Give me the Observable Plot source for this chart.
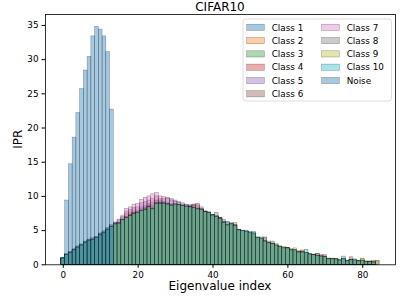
<!DOCTYPE html>
<html><head><meta charset="utf-8">
<script src="https://cdn.jsdelivr.net/npm/d3@7"></script>
<script src="https://cdn.jsdelivr.net/npm/@observablehq/plot@0.6"></script>
<style>body{margin:0;background:#fff} svg{font-family:"DejaVu Sans",sans-serif}</style>
</head><body><div id="chart"></div>
<script>
const title = "CIFAR10";
const xLabel = "Eigenvalue index";
const yLabel = "IPR";
const seriesNames = ["Class 1","Class 2","Class 3","Class 4","Class 5","Class 6","Class 7","Class 8","Class 9","Class 10","Noise"];
const colors = ["#1f77b4","#ff7f0e","#2ca02c","#d62728","#9467bd","#8c564b","#e377c2","#7f7f7f","#bcbd22","#17becf","#1f77b4"];
const xTicks = [0,20,40,60,80];
const yTicks = [0,5,10,15,20,25,30,35];

const class1 = [1.0,1.5,1.8,2.2,2.6,2.9,3.3,3.6,3.7,4.0, 4.4,4.7,5.2,5.6,6.0,6.2,6.6,7.0,7.3,7.6, 7.8,8.4,8.6,8.9,8.7,9.3,9.2,9.2,9.1,8.9, 8.9,8.8,8.7,8.6,8.6,8.5,8.3,8.1,7.8,7.7, 7.3,7.1,6.8,6.3,6.2,6.0,5.8,5.1,4.9,4.8, 4.6,4.7,4.0,3.9,3.5,3.2,3.0,2.8,2.6,2.4, 2.4,2.1,2.1,1.8,1.8,1.7,1.5,1.4,1.3,1.2, 1.1,0.8,0.8,0.8,0.6,0.9,0.5,0.7,0.6,0.5, 0.6,0.4,0.4,0.3,0.0];
const class2 = [0.9,1.4,1.7,2.1,2.5,2.8,3.2,3.5,3.6,3.9, 4.3,4.6,5.1,5.5,5.9,6.1,6.8,7.4,7.6,7.8, 7.9,8.0,8.2,8.6,9.0,9.4,9.4,9.0,8.9,8.7, 8.8,8.7,8.6,8.5,8.4,8.8,8.8,8.0,7.7,7.6, 7.2,7.0,6.7,6.2,5.8,6.0,6.1,5.1,4.9,4.8, 4.6,4.5,3.9,3.8,3.9,3.2,3.0,2.8,2.6,2.4, 2.4,2.1,2.1,2.0,1.8,1.7,1.5,1.4,1.3,1.2, 1.1,0.8,0.8,0.8,0.6,0.8,0.5,0.7,0.6,0.5, 0.8,0.4,0.4,0.3,0.0];
const class3 = [0.9,1.4,1.7,2.1,2.5,2.8,3.2,3.5,3.6,3.9, 4.3,4.6,5.1,5.5,5.9,6.0,6.4,6.7,7.0,7.3, 7.5,7.7,7.9,8.3,8.0,8.8,8.8,8.8,8.7,8.5, 8.7,8.6,8.5,8.4,8.3,8.2,8.0,7.9,7.6,7.5, 7.1,6.9,6.6,6.0,5.6,5.8,5.6,5.0,4.8,4.7, 4.5,4.4,3.8,3.7,3.3,3.1,2.9,2.7,2.5,2.3, 2.3,2.0,2.0,1.7,1.7,1.6,1.4,1.3,1.2,1.1, 1.0,0.8,0.7,0.7,0.6,0.7,0.5,0.6,0.6,0.5, 0.5,0.4,0.3,0.3,0.0];
const class4 = [0.9,1.4,1.7,2.1,2.5,2.8,3.2,3.5,3.6,3.9, 4.3,4.6,5.1,5.5,5.9,6.1,6.5,6.8,7.1,7.4, 7.6,7.8,8.0,8.4,8.1,8.9,8.9,8.9,8.8,8.6, 8.8,8.7,8.6,8.5,8.4,8.3,8.1,8.0,7.7,7.6, 7.2,7.0,6.9,6.1,5.7,5.9,5.7,5.1,4.9,4.8, 4.6,4.5,3.9,3.8,3.4,3.2,3.1,2.8,2.6,2.4, 2.4,2.1,2.1,1.8,2.1,1.7,1.5,1.4,1.3,1.4, 1.4,0.8,0.8,0.8,0.6,0.8,0.5,1.1,0.6,0.5, 0.6,0.4,0.4,0.3,0.0];
const class5 = [1.0,1.6,1.9,2.3,2.7,3.0,3.4,3.7,3.9,4.1, 4.6,4.9,5.4,5.8,6.2,6.5,7.0,7.8,8.0,8.3, 8.4,9.0,9.2,9.4,9.6,10.0,9.6,9.6,9.8,9.6, 9.4,9.2,9.0,8.8,8.7,8.8,8.6,8.4,7.8,7.6, 7.3,7.1,6.8,6.3,5.8,5.9,5.8,5.0,4.9,4.9, 4.6,4.5,3.9,3.8,3.4,3.2,3.1,2.8,2.6,2.4, 2.4,2.2,2.1,1.8,1.8,1.7,1.5,1.4,1.3,1.2, 1.1,0.9,0.8,0.8,0.7,0.8,0.6,0.7,0.7,0.5, 0.6,0.4,0.4,0.4,0.0];
const class6 = [0.9,1.4,1.7,2.1,2.5,2.8,3.2,3.5,3.6,3.9, 4.3,4.6,5.1,5.5,5.9,6.1,6.6,7.0,7.3,7.6, 7.7,8.1,8.3,8.6,8.4,9.0,9.0,9.0,8.9,8.7, 8.8,8.7,8.6,8.5,8.4,8.3,8.1,8.0,7.7,7.6, 7.2,7.0,6.7,6.1,5.7,5.9,5.7,5.1,4.9,4.8, 4.6,4.5,3.9,3.8,3.4,3.2,3.0,2.8,2.6,2.4, 2.4,2.1,2.1,1.8,1.8,1.7,1.5,1.5,1.6,1.2, 1.1,0.8,0.8,0.7,0.6,0.8,0.5,0.7,0.6,0.5, 0.6,0.4,0.5,0.6,0.6];
const class7 = [0.9,1.5,1.8,2.2,2.6,2.9,3.3,3.6,3.8,4.0, 4.5,4.8,5.3,5.7,6.1,6.6,7.2,8.2,8.4,8.8, 8.9,9.5,9.8,10.0,10.3,10.5,10.0,9.9,9.6,9.4, 9.2,9.0,8.8,8.7,8.5,8.6,8.9,8.2,7.7,7.6, 7.2,7.0,6.7,6.2,5.8,5.9,5.7,5.0,4.9,4.8, 4.6,4.5,3.9,3.8,3.4,3.2,3.0,2.8,2.6,2.4, 2.4,2.1,2.1,1.8,1.8,1.7,1.5,1.4,1.3,1.2, 1.1,0.8,0.8,0.7,0.6,0.8,0.5,0.7,0.6,0.5, 0.6,0.4,0.4,0.3,0.0];
const class8 = [0.9,1.4,1.7,2.1,2.5,2.8,3.2,3.5,3.6,3.9, 4.3,4.6,5.1,5.5,5.9,6.1,6.5,6.9,7.2,7.5, 7.6,7.9,8.1,8.5,8.2,9.0,9.0,9.0,8.9,8.7, 8.8,8.7,8.6,8.5,8.4,8.3,8.2,8.1,7.7,7.6, 7.3,7.6,6.8,6.6,6.3,5.9,5.7,5.1,4.9,4.8, 4.6,4.5,3.9,3.8,4.0,3.4,3.4,2.9,2.6,2.5, 2.5,2.1,2.1,1.8,1.8,1.7,1.5,1.4,1.6,1.2, 1.1,0.8,0.8,0.7,0.6,0.8,0.5,0.7,0.6,0.5, 0.6,0.4,0.4,0.4,0.0];
const class9 = [0.9,1.4,1.7,2.1,2.5,2.8,3.2,3.5,3.6,3.9, 4.3,4.6,5.1,5.5,5.9,6.0,6.5,6.8,7.1,7.4, 7.6,7.8,8.0,8.4,8.1,8.9,8.9,8.9,8.8,8.6, 8.8,8.7,8.6,8.5,8.4,8.3,8.1,8.0,7.7,7.6, 7.2,7.0,6.7,6.1,5.7,5.9,5.7,5.1,4.9,4.8, 4.7,4.6,3.9,3.8,3.4,3.2,3.0,3.0,2.7,2.6, 2.4,2.3,2.4,1.8,1.8,1.7,1.6,1.4,1.3,1.2, 1.2,0.9,0.9,0.9,0.6,0.8,0.5,0.7,0.7,0.6, 0.9,0.5,0.4,0.4,0.5];
const class10 = [0.9,1.4,1.7,2.1,2.5,2.8,3.2,3.5,3.6,3.9, 4.3,4.6,5.1,5.5,5.9,6.0,6.5,6.8,7.1,7.4, 7.6,7.9,8.0,8.4,8.1,8.9,8.9,8.9,8.8,8.6, 8.8,8.7,8.6,8.5,8.4,8.3,8.1,8.0,7.7,7.6, 7.2,7.0,6.7,6.1,5.8,6.1,5.7,5.1,5.0,5.0, 4.8,4.8,4.0,4.0,3.4,3.2,3.0,2.8,2.6,2.4, 2.4,2.1,2.1,1.8,1.8,2.2,1.5,1.4,1.3,1.2, 1.1,0.8,0.8,0.8,0.7,1.2,0.6,0.7,0.8,0.5, 0.6,0.4,0.4,0.3,0.0];
const noise = [1.0,9.4,14.7,18.6,22.2,25.7,28.4,30.4,33.4,34.8,34.4,33.4,31.1,22.7];

const allSeries = [class1,class2,class3,class4,class5,class6,class7,class8,class9,class10,noise];

const W = 415, H = 297;
const mL = 45, mR = 20, mT = 14, mB = 32.7;

const barMarks = allSeries.map((arr, k) =>
  Plot.rectY(arr.map((v, i) => ({i, v})).filter(d => d.v > 0), {
    x1: d => d.i - 0.5, x2: d => d.i + 0.5, y: "v",
    fill: colors[k], fillOpacity: 0.4,
    stroke: "black", strokeOpacity: 0.4, strokeWidth: 0.5
  })
);

const chart = Plot.plot({
  width: W, height: H,
  marginLeft: mL, marginRight: mR, marginTop: mT, marginBottom: mB,
  style: {fontFamily: "DejaVu Sans", fontSize: "8.8px", color: "black", background: "white", overflow: "visible"},
  x: {domain: [-4.75, 88.75]},
  y: {domain: [0, 36.6]},
  marks: [
    ...barMarks,
    Plot.axisX({ticks: xTicks, tickSize: 3.5, tickPadding: 3.5, label: null, fontSize: 8.8}),
    Plot.axisY({ticks: yTicks, tickSize: 3.5, tickPadding: 3.5, label: null, fontSize: 8.8}),
    Plot.frame({stroke: "black", strokeWidth: 0.8})
  ]
});
document.getElementById("chart").appendChild(chart);

const svg = d3.select(chart);
svg.append("text").attr("x", (mL + W - mR) / 2).attr("y", 10.5).attr("text-anchor", "middle")
  .attr("font-size", 12).attr("fill", "black").text(title);
svg.append("text").attr("x", (mL + W - mR) / 2).attr("y", 290).attr("text-anchor", "middle")
  .attr("font-size", 12).attr("fill", "black").text(xLabel);
svg.append("text").attr("transform", `translate(22,${(mT + H - mB) / 2}) rotate(-90)`).attr("text-anchor", "middle")
  .attr("font-size", 12).attr("fill", "black").text(yLabel);

// legend
const lg = svg.append("g").attr("text-anchor", "start");
lg.append("rect").attr("x", 243).attr("y", 19).attr("width", 148.5).attr("height", 82)
  .attr("rx", 2.5).attr("fill", "white").attr("fill-opacity", 0.8).attr("stroke", "#d5d5d5").attr("stroke-width", 0.8);
seriesNames.forEach((name, k) => {
  const col = k < 6 ? 0 : 1;
  const row = k < 6 ? k : k - 6;
  const px = col === 0 ? 246.7 : 321.7;
  const cy = 27.3 + row * 13.3;
  lg.append("rect").attr("x", px).attr("y", cy - 3.1).attr("width", 17.6).attr("height", 6.2)
    .attr("fill", colors[k]).attr("fill-opacity", 0.4).attr("stroke", "black").attr("stroke-opacity", 0.4).attr("stroke-width", 0.5);
  lg.append("text").attr("x", px + 25).attr("y", cy + 3.2).attr("text-anchor", "start")
    .attr("font-size", 8.8).attr("fill", "black").text(name);
});
</script></body></html>
